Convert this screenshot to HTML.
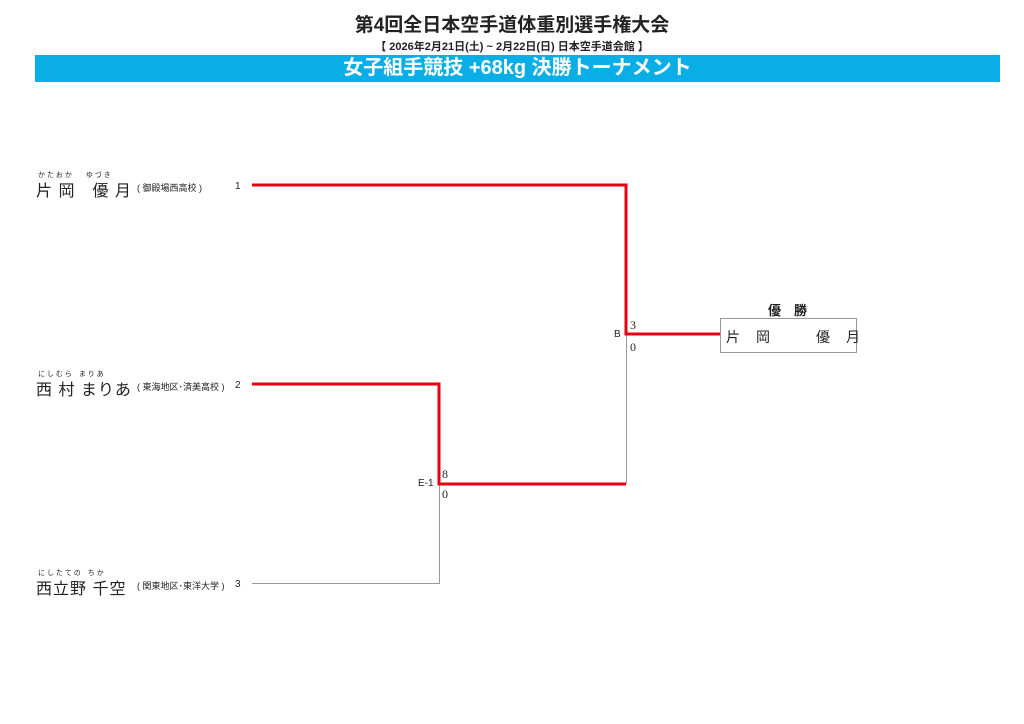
<!DOCTYPE html>
<html><head><meta charset="utf-8"><style>
body{margin:0;width:1024px;height:724px;background:#fff;position:relative;overflow:hidden;font-family:"Liberation Sans","Noto Sans CJK JP",sans-serif;color:#222}
.a{position:absolute;white-space:nowrap}
.nm{font-size:16px;letter-spacing:1px}
.fu{font-size:7px}
.sc{font-size:9px}
.n{font-size:10px}
.s{font-size:12px;font-family:"Liberation Serif","Noto Serif CJK SC",serif}
</style></head><body>
<div class="a" style="left:0;width:1024px;top:10px;text-align:center;font-size:19px;font-weight:bold">第4回全日本空手道体重別選手権大会</div>
<div class="a" style="left:0;width:1024px;top:38px;text-align:center;font-size:11px;font-weight:bold">【 2026年2月21日(土) ~ 2月22日(日)  日本空手道会館 】</div>
<div class="a" style="left:35px;width:965px;top:55px;height:27px;background:#0aaee6;color:#fff;text-align:center;font-size:20px;font-weight:bold;line-height:27px">女子組手競技 +68kg 決勝トーナメント</div>

<div class="a fu" style="left:38px;top:170px">か た お か　　ゆ づ き</div>
<div class="a nm" style="left:36px;top:177px">片 岡　優 月</div>
<div class="a sc" style="left:137px;top:181px">( 御殿場西高校 )</div>
<div class="a n" style="left:235px;top:181px">1</div>

<div class="a fu" style="left:38px;top:369px">に し む ら　ま り あ</div>
<div class="a nm" style="left:36px;top:376px">西 村  まりあ</div>
<div class="a sc" style="left:137px;top:380px">( 東海地区･済美高校 )</div>
<div class="a n" style="left:235px;top:380px">2</div>

<div class="a fu" style="left:38px;top:568px">に し た て の　ち か</div>
<div class="a nm" style="left:36px;top:575px">西立野 千空</div>
<div class="a sc" style="left:137px;top:579px">( 関東地区･東洋大学 )</div>
<div class="a n" style="left:235px;top:579px">3</div>

<svg class="a" style="left:0;top:0" width="1024" height="724">
<g stroke="#999" stroke-width="1" fill="none">
<path d="M252 583.5H439.5V484"/><path d="M626.5 334V484"/>
</g>
<g stroke="#e60012" stroke-width="3" fill="none">
<path d="M252 185H626V334H720"/><path d="M252 384H439V484H626"/>
</g>
<rect x="720.5" y="318.5" width="136" height="34" fill="#fff" stroke="#999"/>
</svg>

<div class="a s" style="left:630px;top:318px">3</div>
<div class="a s" style="left:630px;top:340px">0</div>
<div class="a" style="left:614px;top:329px;font-size:10px">B</div>
<div class="a s" style="left:442px;top:467px">8</div>
<div class="a s" style="left:442px;top:487px">0</div>
<div class="a" style="left:418px;top:478px;font-size:10px">E-1</div>

<div class="a" style="left:768px;top:300px;font-size:13px;font-weight:bold">優　勝</div>
<div class="a" style="left:726px;top:327px;font-size:14px;letter-spacing:1px">片　岡　　　優　月</div>
</body></html>
